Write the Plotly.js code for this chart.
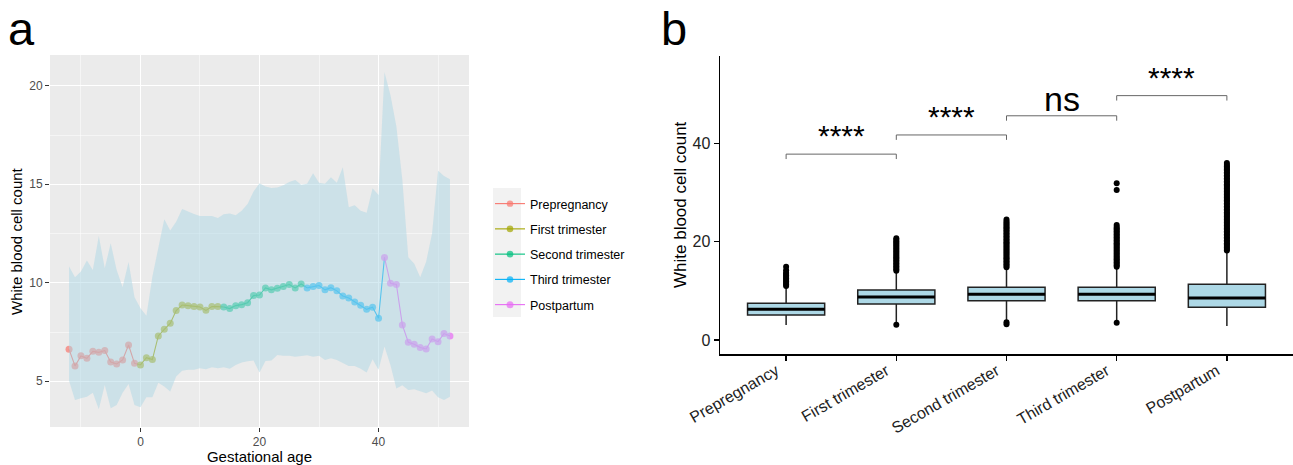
<!DOCTYPE html>
<html>
<head>
<meta charset="utf-8">
<script src="https://cdn.plot.ly/plotly-3.0.1.min.js"></script>
<style>
  html, body { margin: 0; padding: 0; background: #ffffff; }
  #chart { width: 1293px; height: 465px; }
</style>
</head>
<body>
<div id="chart"></div>
<script>
// ---------- Panel a data ----------
const gestAge = [-12,-11,-10,-9,-8,-7,-6,-5,-4,-3,-2,-1,
  0,1,2,3,4,5,6,7,8,9,10,11,12,13,
  14,15,16,17,18,19,20,21,22,23,24,25,26,27,
  28,29,30,31,32,33,34,35,36,37,38,39,40,
  41,42,43,44,45,46,47,48,49,50,51,52];
const wbcMean = [6.62,5.78,6.29,6.17,6.52,6.47,6.56,5.98,5.88,6.08,6.84,5.91,
  5.83,6.20,6.10,7.30,7.64,7.94,8.59,8.87,8.84,8.79,8.77,8.60,8.79,8.79,
  8.77,8.69,8.84,8.89,8.99,9.35,9.38,9.74,9.64,9.72,9.81,9.91,9.74,9.94,
  9.74,9.81,9.86,9.64,9.75,9.59,9.33,9.23,9.03,8.86,8.65,8.76,8.20,
  11.28,9.97,9.91,7.86,6.98,6.88,6.71,6.64,7.15,7.01,7.42,7.30];
const wbcLow = [5.03,4.05,4.14,4.22,4.42,3.58,4.81,3.63,3.80,4.42,4.86,3.80,
  3.68,4.19,4.19,4.93,4.73,4.48,5.24,5.54,5.58,5.58,5.66,5.61,5.71,5.66,
  5.71,5.63,5.83,5.95,6.02,6.05,5.44,6.03,6.05,6.34,6.29,6.29,6.25,6.29,
  6.32,6.25,6.29,6.08,6.17,6.08,5.91,5.78,5.78,5.64,5.44,6.12,5.58,
  6.76,5.83,4.64,4.80,4.56,4.59,4.48,4.39,4.53,4.19,4.05,4.22];
const wbcHigh = [10.82,10.28,10.57,11.13,10.65,12.38,10.74,12.00,10.65,9.77,11.06,9.26,
  8.71,8.32,10.31,11.84,13.22,12.65,13.10,13.75,13.61,13.49,13.39,13.39,13.39,13.29,
  13.48,13.51,13.43,13.66,14.00,14.63,15.05,14.88,14.81,14.84,14.95,15.12,15.22,14.98,
  15.02,15.56,15.08,15.02,15.36,15.08,15.86,13.83,13.93,13.66,13.56,14.80,14.46,
  20.69,19.53,17.93,15.22,11.29,10.96,10.28,11.07,12.51,15.69,15.42,15.25];
const periods = ['Prepregnancy','First trimester','Second trimester','Third trimester','Postpartum'];
const periodStart = [-12, 0, 14, 28, 41];
const periodColors = ['#F8766D','#A3A500','#00BF7D','#00B0F6','#E76BF3'];

// ---------- Panel b data ----------
const boxCats = ['Prepregnancy','First trimester','Second trimester','Third trimester','Postpartum'];
const boxQ1 = [5.09, 7.32, 8.00, 8.00, 6.65];
const boxMedian = [6.24, 8.75, 9.29, 9.29, 8.55];
const boxQ3 = [7.46, 10.17, 10.72, 10.72, 11.33];
const boxLowWhisker = [3.05, 3.40, 4.00, 4.00, 2.85];
const boxHighWhisker = [10.9, 14.0, 14.6, 14.6, 17.9];
const outliers = [
  [11.0,11.3,11.6,11.9,12.2,12.5,12.8,13.1,13.4,13.7,14.2,14.9],
  [3.1,14.1,14.4,14.7,15.0,15.3,15.6,15.9,16.2,16.5,16.8,17.1,17.4,17.7,18.0,18.3,18.6,18.9,19.2,19.5,19.8,20.1,20.4,20.7],
  [3.2,3.6,14.8,15.1,15.4,15.7,16.0,16.3,16.6,16.9,17.2,17.5,17.8,18.1,18.4,18.7,19.0,19.3,19.6,19.9,20.2,20.5,20.8,21.1,21.4,21.7,22.0,22.3,22.6,22.9,23.2,23.5,23.8,24.1,24.5],
  [3.5,14.9,15.2,15.5,15.8,16.1,16.4,16.7,17.0,17.3,17.6,17.9,18.2,18.5,18.8,19.1,19.4,19.7,20.0,20.3,20.6,20.9,21.2,21.5,21.8,22.1,22.4,22.7,23.0,23.4,30.5,31.9],
  [18.2,18.5,18.8,19.1,19.4,19.7,20.0,20.3,20.6,20.9,21.2,21.5,21.8,22.1,22.4,22.7,23.0,23.3,23.6,23.9,24.2,24.5,24.8,25.1,25.4,25.7,26.0,26.3,26.6,26.9,27.2,27.5,27.8,28.1,28.4,28.7,29.0,29.3,29.6,29.9,30.2,30.5,30.8,31.1,31.4,31.7,32.0,32.3,32.6,32.9,33.2,33.5,33.8,34.1,34.4,34.7,35.0,35.3,35.6,36.0]
];
const compPairs = [[1,2],[2,3],[3,4],[4,5]];
const compY = [37.8, 41.7, 45.6, 49.7];
const compLabels = ['****','****','ns','****'];

// ---------- Build traces ----------
const FONT = 'Liberation Sans, Arial, sans-serif';
const traces = [];

periods.forEach((p, i) => {
  const lo = periodStart[i];
  const hi = i + 1 < periodStart.length ? periodStart[i + 1] : Infinity;
  const xs = [], ys = [], sz = [];
  gestAge.forEach((g, k) => {
    if (g >= lo && g < hi) { xs.push(g); ys.push(wbcMean[k]); sz.push(7); }
  });
  // connect to next period's first point (segment coloured by start point)
  if (hi !== Infinity) {
    const k = gestAge.indexOf(hi);
    xs.push(gestAge[k]); ys.push(wbcMean[k]); sz.push(0);
  }
  traces.push({
    type: 'scatter', mode: 'lines+markers', name: p,
    x: xs, y: ys, xaxis: 'x', yaxis: 'y',
    line: { color: periodColors[i], width: 1.1 },
    marker: { color: periodColors[i], size: sz, line: { width: 0 } },
    legendgroup: p
  });
});

// ribbon (drawn over the points, semi-transparent)
traces.push({
  type: 'scatter', mode: 'lines', x: gestAge, y: wbcLow, xaxis: 'x', yaxis: 'y',
  line: { width: 0 }, showlegend: false, hoverinfo: 'skip'
});
traces.push({
  type: 'scatter', mode: 'lines', x: gestAge, y: wbcHigh, xaxis: 'x', yaxis: 'y',
  line: { width: 0 }, fill: 'tonexty', fillcolor: 'rgba(173,216,230,0.5)',
  showlegend: false, hoverinfo: 'skip'
});

// panel b boxes
const boxX = boxCats.map((c, i) => i + 1);
traces.push({
  type: 'box', xaxis: 'x2', yaxis: 'y2', x: boxX,
  q1: boxQ1, median: boxMedian, q3: boxQ3,
  lowerfence: boxLowWhisker, upperfence: boxHighWhisker,
  width: 0.7, whiskerwidth: 0, boxpoints: false,
  fillcolor: '#ADD8E6', line: { color: '#222222', width: 1.5 },
  showlegend: false, hoverinfo: 'skip'
});
// outliers
const oX = [], oY = [];
outliers.forEach((arr, i) => arr.forEach(v => { oX.push(i + 1); oY.push(v); }));
traces.push({
  type: 'scatter', mode: 'markers', xaxis: 'x2', yaxis: 'y2', x: oX, y: oY,
  marker: { color: '#000000', size: 6 }, showlegend: false, hoverinfo: 'skip'
});

// ---------- Shapes & annotations ----------
const shapes = [
  // grey panel background for panel a
  { type: 'rect', xref: 'x domain', yref: 'y domain', x0: 0, x1: 1, y0: 0, y1: 1,
    fillcolor: '#EBEBEB', line: { width: 0 }, layer: 'below' },
  // legend key background
  { type: 'rect', xref: 'paper', yref: 'paper', x0: 493 / 1293, x1: 521 / 1293,
    y0: (465 - 317) / 465, y1: (465 - 188) / 465,
    fillcolor: '#F2F2F2', line: { width: 0 }, layer: 'below' }
];
// thick median lines
boxMedian.forEach((m, i) => {
  shapes.push({ type: 'line', xref: 'x2', yref: 'y2', x0: i + 1 - 0.35, x1: i + 1 + 0.35,
    y0: m, y1: m, line: { color: '#000000', width: 3 } });
});
const annotations = [];
compPairs.forEach((pr, i) => {
  const y = compY[i];
  shapes.push({ type: 'path', xref: 'x2', yref: 'y2',
    path: `M ${pr[0]},${y - 1} L ${pr[0]},${y} L ${pr[1]},${y} L ${pr[1]},${y - 1}`,
    line: { color: '#666666', width: 1 } });
  const isNs = compLabels[i] === 'ns';
  annotations.push({ xref: 'x2', yref: 'y2', x: (pr[0] + pr[1]) / 2, y: y,
    text: compLabels[i], showarrow: false, yanchor: 'bottom',
    yshift: isNs ? -4 : 0,
    font: { family: FONT, size: isNs ? 34 : 30, color: '#000000' } });
});
annotations.push({ xref: 'paper', yref: 'paper', x: 21 / 1293, y: 1, xanchor: 'center', yanchor: 'top',
  text: 'a', showarrow: false, font: { family: FONT, size: 47, color: '#000' } });
annotations.push({ xref: 'paper', yref: 'paper', x: 674 / 1293, y: 1, xanchor: 'center', yanchor: 'top',
  text: 'b', showarrow: false, font: { family: FONT, size: 47, color: '#000' } });
// y-axis titles
annotations.push({ xref: 'paper', yref: 'y domain', x: 16 / 1293, y: 0.5, xanchor: 'center', yanchor: 'middle',
  text: 'White blood cell count', textangle: -90, showarrow: false,
  font: { family: FONT, size: 15, color: '#000' } });
annotations.push({ xref: 'paper', yref: 'y2 domain', x: 680 / 1293, y: 0.5, xanchor: 'center', yanchor: 'middle',
  text: 'White blood cell count', textangle: -90, showarrow: false,
  font: { family: FONT, size: 17, color: '#000' } });

const layout = {
  width: 1293, height: 465,
  margin: { l: 0, r: 0, t: 0, b: 0 },
  paper_bgcolor: '#ffffff', plot_bgcolor: 'rgba(0,0,0,0)',
  font: { family: FONT, color: '#000' },
  showlegend: true,
  legend: {
    x: 490 / 1293, y: (465 - 189) / 465, xanchor: 'left', yanchor: 'top',
    bgcolor: 'rgba(0,0,0,0)', font: { family: FONT, size: 12.5, color: '#000' },
    tracegroupgap: 6, traceorder: 'grouped'
  },
  xaxis: {
    domain: [50 / 1293, 469 / 1293], range: [-15.2, 55.2], anchor: 'y',
    tick0: 0, dtick: 20, showgrid: true, gridcolor: '#ffffff', gridwidth: 1.1,
    minor: { dtick: 10, tick0: 0, showgrid: true, gridcolor: '#ffffff', gridwidth: 0.5 },
    zeroline: false, showline: false, ticks: 'outside', ticklen: 4, tickcolor: '#333333',
    tickfont: { family: FONT, size: 12, color: '#4D4D4D' },
    title: { text: 'Gestational age', font: { family: FONT, size: 15, color: '#000' } },
    automargin: false
  },
  yaxis: {
    domain: [(465 - 427) / 465, (465 - 55) / 465], range: [2.68, 21.56], anchor: 'x',
    tick0: 0, dtick: 5, showgrid: true, gridcolor: '#ffffff', gridwidth: 1.1,
    minor: { dtick: 2.5, tick0: 0, showgrid: true, gridcolor: '#ffffff', gridwidth: 0.5 },
    zeroline: false, showline: false, ticks: 'outside', ticklen: 4, tickcolor: '#333333',
    tickfont: { family: FONT, size: 12, color: '#4D4D4D' },
    automargin: false
  },
  xaxis2: {
    domain: [720 / 1293, 1], range: [0.4, 5.6], anchor: 'y2',
    tickvals: boxX, ticktext: boxCats, tickangle: -30,
    ticklabelstandoff: -5, ticklabelshift: -10,
    showgrid: false, zeroline: false, showline: true, linecolor: '#000', linewidth: 1.5,
    ticks: 'outside', ticklen: 5, tickcolor: '#000', tickwidth: 1.3,
    tickfont: { family: FONT, size: 16, color: '#222' }, automargin: false
  },
  yaxis2: {
    domain: [(465 - 354) / 465, (465 - 56) / 465], range: [-2.85, 57.76], anchor: 'x2',
    tickvals: [0, 20, 40], showgrid: false, zeroline: false, showline: true,
    linecolor: '#000', linewidth: 1.5, ticks: 'outside', ticklen: 5, tickcolor: '#000', tickwidth: 1.3,
    tickfont: { family: FONT, size: 16, color: '#222' },
    automargin: false
  },
  shapes: shapes,
  annotations: annotations
};

Plotly.newPlot('chart', traces, layout, { displayModeBar: false, staticPlot: true });
</script>
</body>
</html>
